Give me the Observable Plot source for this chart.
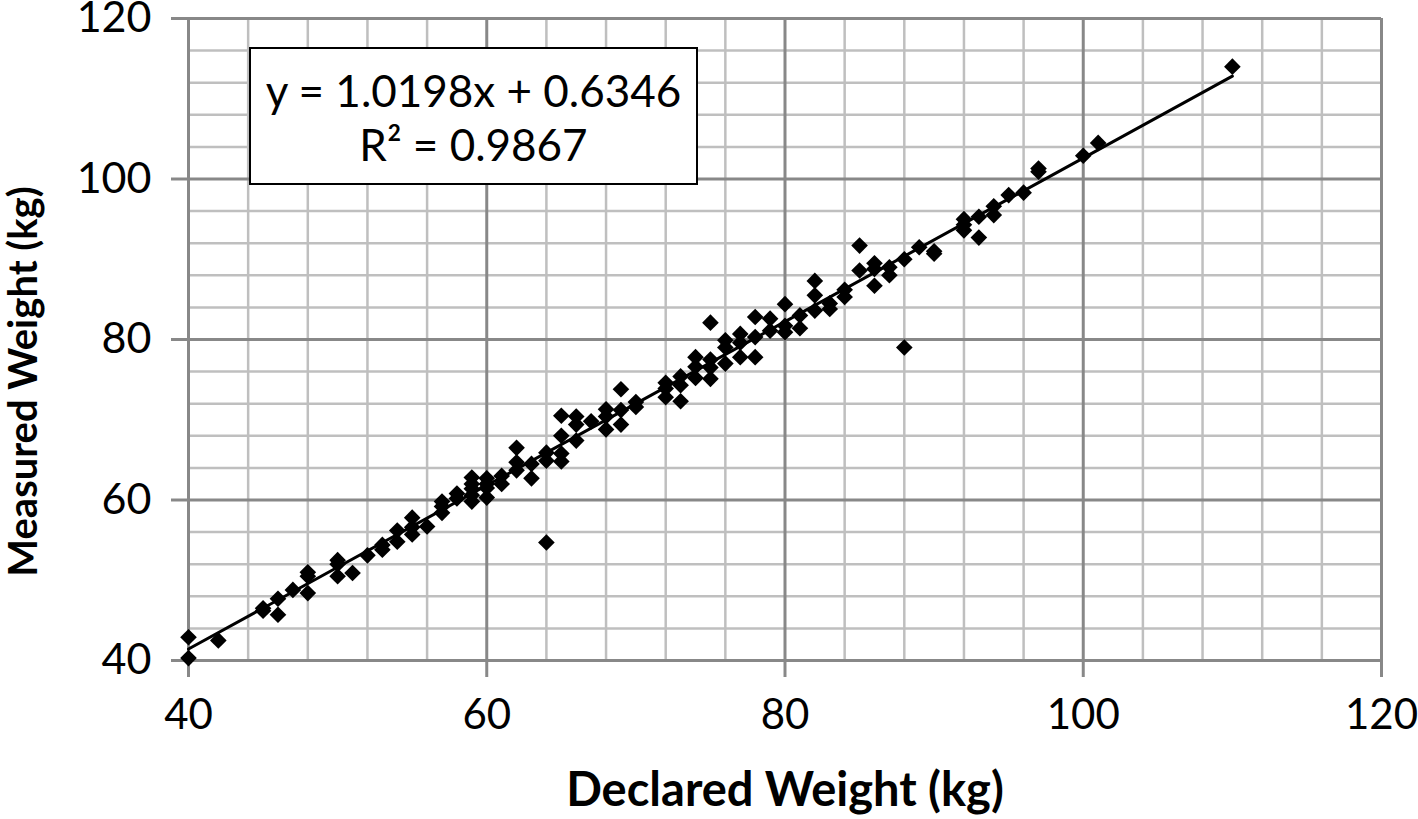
<!DOCTYPE html>
<html><head><meta charset="utf-8">
<script src="https://cdn.jsdelivr.net/npm/d3@7"></script>
<script src="https://cdn.jsdelivr.net/npm/@observablehq/plot@0.6"></script>
<style>
body{margin:0;background:#fff;}
#wrap{position:relative;width:1418px;height:819px;font-family:Lato,sans-serif;}
#eq{position:absolute;left:249px;top:47px;width:449px;height:138px;box-sizing:border-box;border:2px solid #000;background:#fff;text-align:center;font-size:44px;line-height:54px;padding-top:14px;color:#000;}
</style></head><body>
<div id="wrap"><div id="eq"></div></div>
<script>
const declared = [40,40,42,45,45,46,46,47,48,48,48,50,50,50,51,52,53,53,54,54,55,55,55,56,57,57,57,58,58,59,59,59,59,59,60,60,60,60,61,61,62,62,62,63,63,64,64,64,65,65,65,65,66,66,66,67,68,68,68,69,69,69,70,70,72,72,72,73,73,73,74,74,74,75,75,75,75,76,76,76,77,77,77,78,78,78,79,79,80,80,80,81,81,82,82,82,83,83,84,84,85,85,86,86,86,87,87,88,88,89,90,90,92,92,92,93,93,94,94,95,96,97,97,100,101,110];
const measured = [42.9,40.3,42.5,46.5,46.2,47.7,45.7,48.8,51.0,50.5,48.4,52.5,52.0,50.5,50.9,53.1,54.4,53.8,56.2,54.8,57.8,56.6,55.7,56.7,59.8,59.2,58.4,60.8,60.2,62.8,62.0,61.4,60.6,59.8,62.7,62.0,61.5,60.3,63.0,62.0,66.5,64.7,63.7,64.5,62.7,65.9,64.9,54.7,70.5,68.0,65.8,64.8,70.4,69.4,67.4,69.8,71.3,70.4,68.8,73.8,71.2,69.4,72.2,71.6,74.6,73.9,72.8,75.4,74.3,72.3,77.8,76.6,75.2,82.1,77.5,76.5,75.1,79.9,79.0,77.0,80.7,79.6,77.8,82.8,80.3,77.8,82.6,81.1,84.4,81.7,80.9,83.0,81.4,87.3,85.5,83.6,84.5,83.8,86.2,85.3,91.7,88.6,89.5,88.8,86.7,89.0,88.0,90.0,79.0,91.5,91.0,90.7,95.0,94.3,93.6,95.3,92.7,96.6,95.5,98.0,98.3,101.3,100.9,102.9,104.5,114.0];
const slope = 1.0198;
const intercept = 0.6346;
const rSquared = 0.9867;
const majorTicks = [40,60,80,100,120];
const minorTicks = [44,48,52,56,64,68,72,76,84,88,92,96,104,108,112,116];
const xTitle = "Declared Weight (kg)";
const yTitle = "Measured Weight (kg)";

const rows = declared.map((d, i) => ({declared: d, measured: measured[i]}));
const ext = d3.extent(declared);
const trend = ext.map(x => ({declared: x, measured: slope * x + intercept}));

document.getElementById("eq").innerHTML =
  `y = ${slope.toFixed(4)}x + ${intercept.toFixed(4)}<br>R² = ${rSquared.toFixed(4)}`;

const plot = Plot.plot({
  width: 1418, height: 819,
  marginLeft: 188, marginRight: 37, marginTop: 18, marginBottom: 159,
  style: {fontFamily: "Lato, sans-serif", fontSize: "42px", color: "#000", background: "#fff"},
  x: {domain: [40, 120]},
  y: {domain: [40, 120]},
  marks: [
    Plot.ruleX(minorTicks, {stroke: "#bfbfbf", strokeWidth: 2.5}),
    Plot.ruleY(minorTicks, {stroke: "#bfbfbf", strokeWidth: 2.5}),
    Plot.ruleX(majorTicks, {stroke: "#888", strokeWidth: 3}),
    Plot.ruleY(majorTicks, {stroke: "#888", strokeWidth: 3}),
    Plot.axisX({ticks: majorTicks, tickSize: 17, tickPadding: 22, stroke: "#888", strokeWidth: 3, fill: "#000", fontSize: 42, label: null, tickFormat: d => String(d)}),
    Plot.axisY({ticks: majorTicks, tickSize: 17, tickPadding: 20, stroke: "#888", strokeWidth: 3, fill: "#000", fontSize: 43, label: null, tickFormat: d => String(d)}),
    Plot.dot(rows, {x: "declared", y: "measured", symbol: "diamond2", r: 7.5, fill: "#000", stroke: null}),
    Plot.line(trend, {x: "declared", y: "measured", stroke: "#000", strokeWidth: 3}),
    Plot.text([xTitle], {frameAnchor: "bottom", dy: 145, fontWeight: "bold", fontSize: 47, fill: "#000"}),
    Plot.text([yTitle], {frameAnchor: "left", textAnchor: "middle", rotate: -90, dx: -164, dy: 42, fontWeight: "bold", fontSize: 40, fill: "#000"})
  ]
});
document.getElementById("wrap").prepend(plot);
</script>
</body></html>
